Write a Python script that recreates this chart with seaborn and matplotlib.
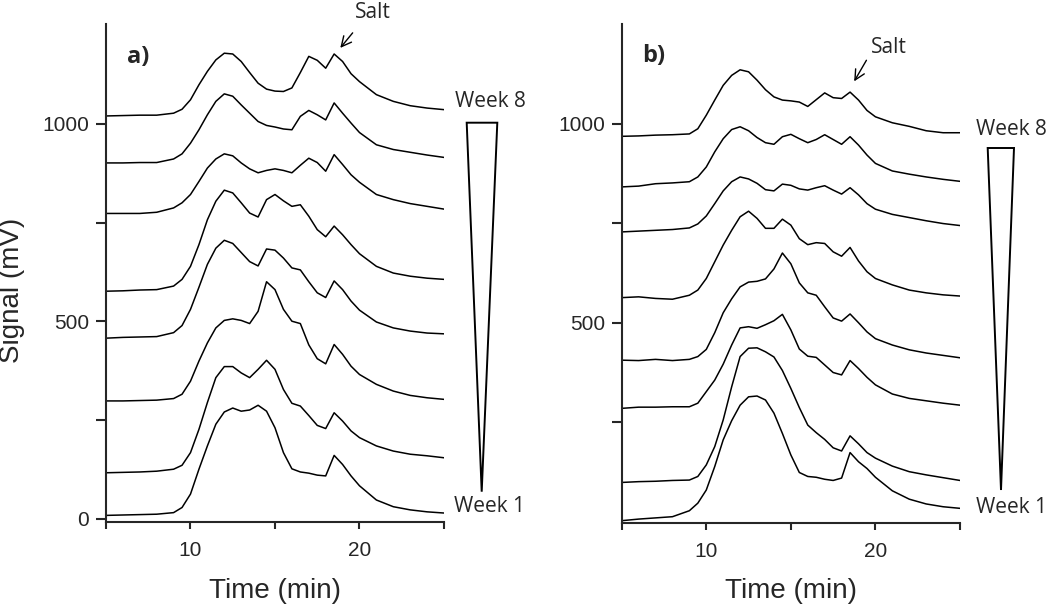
import matplotlib
matplotlib.use("Agg")
import matplotlib.pyplot as plt
from matplotlib.patches import Polygon
import seaborn as sns
import pandas as pd

# retention time grid (min), shared by every trace
times = [5, 6, 7, 8, 9, 9.5, 10, 10.5, 11, 11.5, 12, 12.5, 13, 13.5, 14, 14.5,
         15, 15.5, 16, 16.5, 17, 17.5, 18, 18.5, 19, 19.5, 20, 21, 22, 23, 24, 25]

# panel a) signal (mV)
a_week1 = [8, 9, 10, 11, 15, 28, 62, 125, 184, 239, 270, 280, 272, 275, 287, 272,
           230, 167, 126, 118, 115, 110, 108, 160, 137, 108, 83, 47, 30, 22, 17, 14]
a_week2 = [116, 117, 118, 120, 125, 135, 167, 226, 294, 357, 385, 385, 369, 357, 378, 401,
           378, 327, 292, 285, 261, 236, 228, 268, 247, 222, 205, 184, 171, 163, 159, 154]
a_week3 = [298, 298, 299, 300, 304, 315, 348, 399, 445, 483, 502, 506, 502, 494, 525, 600,
           580, 530, 500, 494, 440, 405, 392, 441, 416, 386, 365, 340, 323, 312, 306, 302]
a_week4 = [457, 459, 460, 461, 471, 489, 530, 586, 644, 685, 705, 697, 674, 651, 640, 683,
           680, 660, 635, 630, 600, 572, 560, 602, 580, 551, 528, 498, 483, 475, 470, 468]
a_week5 = [576, 577, 579, 580, 589, 606, 639, 694, 757, 804, 832, 825, 800, 774, 764, 808,
           821, 805, 791, 795, 766, 732, 714, 741, 719, 694, 671, 639, 622, 614, 609, 606]
a_week6 = [773, 773, 773, 776, 787, 800, 821, 854, 888, 911, 924, 919, 901, 886, 876, 882,
           886, 882, 876, 895, 913, 902, 880, 922, 897, 871, 852, 821, 808, 798, 791, 784]
a_week7 = [901, 901, 902, 902, 911, 924, 951, 985, 1023, 1057, 1076, 1070, 1048, 1027, 1006, 996,
           992, 987, 985, 1019, 1034, 1023, 1010, 1053, 1027, 1002, 978, 947, 935, 928, 921, 915]
a_week8 = [1020, 1021, 1022, 1022, 1027, 1037, 1061, 1099, 1133, 1162, 1179, 1177, 1158, 1130, 1103, 1088,
           1083, 1082, 1091, 1130, 1171, 1161, 1141, 1177, 1158, 1127, 1107, 1074, 1057, 1046, 1040, 1036]

# panel b) signal (mV)
b_week1 = [3, 7, 10, 13, 28, 47, 80, 139, 206, 254, 293, 314, 316, 306, 273, 222,
           168, 124, 114, 112, 107, 104, 110, 174, 151, 134, 112, 78, 57, 45, 38, 34]
b_week2 = [99, 101, 102, 104, 105, 114, 143, 189, 256, 339, 415, 436, 437, 427, 414, 380,
           335, 287, 243, 224, 207, 186, 178, 216, 196, 174, 160, 140, 126, 118, 111, 104]
b_week3 = [285, 288, 288, 289, 289, 298, 327, 356, 396, 444, 487, 490, 486, 495, 505, 521,
           482, 434, 416, 413, 394, 375, 369, 405, 385, 363, 344, 321, 310, 304, 298, 293]
b_week4 = [406, 405, 408, 405, 408, 415, 433, 475, 525, 560, 590, 602, 604, 610, 635, 675,
           648, 600, 575, 569, 540, 512, 504, 522, 500, 477, 460, 444, 432, 424, 418, 412]
b_week5 = [563, 565, 561, 559, 569, 582, 611, 653, 695, 732, 766, 780, 762, 737, 737, 760,
           745, 711, 696, 701, 699, 678, 667, 689, 655, 628, 611, 595, 582, 575, 570, 567]
b_week6 = [728, 730, 732, 734, 738, 748, 768, 799, 831, 854, 866, 861, 850, 834, 831, 848,
           845, 836, 833, 839, 844, 833, 823, 839, 821, 799, 785, 772, 764, 756, 749, 744]
b_week7 = [841, 843, 849, 851, 854, 866, 891, 929, 962, 985, 992, 982, 965, 952, 948, 967,
           973, 962, 952, 960, 972, 960, 948, 967, 946, 921, 900, 881, 873, 866, 860, 855]
b_week8 = [968, 969, 971, 972, 974, 987, 1021, 1059, 1096, 1121, 1135, 1130, 1109, 1085, 1067, 1059,
           1057, 1054, 1043, 1060, 1077, 1065, 1063, 1079, 1059, 1033, 1017, 1002, 993, 982, 977, 977]

weeks_a = [a_week1, a_week2, a_week3, a_week4, a_week5, a_week6, a_week7, a_week8]
weeks_b = [b_week1, b_week2, b_week3, b_week4, b_week5, b_week6, b_week7, b_week8]


def long_table(traces):
    rows = []
    for i, trace in enumerate(traces):
        for t, s in zip(times, trace):
            rows.append({"time": t, "signal": s, "week": i + 1})
    return pd.DataFrame(rows)


sns.set_style("ticks")
plt.rcParams["font.family"] = ["Liberation Sans", "DejaVu Sans"]

W, H = 1050, 606


def px(x, y):
    # figure pixel -> figure fraction
    return (x / W, 1 - y / H)


fig = plt.figure(figsize=(W / 100, H / 100), dpi=100)
ax_a = fig.add_axes([0.10095, 0.1391, 0.3219, 0.8213])
ax_b = fig.add_axes([0.5921, 0.1375, 0.3222, 0.8229])

for ax, traces in [(ax_a, weeks_a), (ax_b, weeks_b)]:
    sns.lineplot(data=long_table(traces), x="time", y="signal", units="week",
                 estimator=None, color="black", linewidth=1.1, legend=False, ax=ax,
                 solid_joinstyle="round")
    ax.set_xlim(5, 25)
    ax.set_xticks([5, 10, 15, 20, 25])
    ax.set_xticklabels(["", "10", "", "20", ""])
    for side in ["top", "right"]:
        ax.spines[side].set_visible(False)
    for side in ["left", "bottom"]:
        ax.spines[side].set_linewidth(1.5)
    ax.tick_params(axis="both", direction="out", width=1.5, labelsize=15)
    ax.tick_params(axis="x", length=5, pad=9)
    ax.tick_params(axis="y", length=7, pad=5)
    ax.set_xlabel("Time (min)", fontsize=20)
    ax.xaxis.label.set_va("baseline")
    ax.set_ylabel("")

ax_a.set_ylim(-8, 1253)
ax_a.set_yticks([0, 250, 500, 750, 1000])
ax_a.set_yticklabels(["0", "", "500", "", "1000"])
ax_a.xaxis.set_label_coords(0.5, -0.1533)
ax_a.set_ylabel("Signal (mV)", fontsize=20)
ax_a.yaxis.set_label_coords((12 - 106) / 338, 0.4655)
ax_a.yaxis.label.set_va("center")

ax_b.set_ylim(-2, 1250)
ax_b.set_yticks([250, 500, 750, 1000])
ax_b.set_yticklabels(["", "500", "", "1000"])
ax_b.xaxis.set_label_coords(0.5, -0.151)

# panel letters and salt markers
note = dict(family=["Open Sans", "DejaVu Sans"])
ax_a.text(6.24, 1154, "a)", fontsize=17, fontweight="bold", ha="left", va="baseline", **note)
ax_b.text(6.18, 1154, "b)", fontsize=17, fontweight="bold", ha="left", va="baseline", **note)

ax_a.text(20.8, 1268, "Salt", fontsize=15, ha="center", va="baseline", **note)
ax_a.annotate("", xy=(18.76, 1187), xytext=(19.7, 1236), annotation_clip=False,
              arrowprops=dict(arrowstyle="->", lw=1.0, color="black", mutation_scale=18))
ax_b.text(20.8, 1176, "Salt", fontsize=15, ha="center", va="baseline", **note)
ax_b.annotate("", xy=(18.66, 1100), xytext=(19.55, 1165), annotation_clip=False,
              arrowprops=dict(arrowstyle="->", lw=1.0, color="black", mutation_scale=18))

# week wedges beside each panel
for top_y, x0, x1, tip_x, tip_y, cx, b8, b1 in [
        (122.7, 466.7, 497.3, 481.7, 491.7, 490, 106.7, 511.7),
        (148.0, 987.7, 1014.0, 1001.0, 490.0, 1011, 135.0, 513.3)]:
    tri = Polygon([px(x0, top_y), px(x1, top_y), px(tip_x, tip_y)], closed=True,
                  facecolor="white", edgecolor="black", linewidth=1.4,
                  transform=fig.transFigure)
    fig.add_artist(tri)
    fig.text(*px(cx, b8), "Week 8", fontsize=15, ha="center", va="baseline", **note)
    fig.text(*px(cx, b1), "Week 1", fontsize=15, ha="center", va="baseline", **note)

fig.savefig("out.png", dpi=100, facecolor="white")
